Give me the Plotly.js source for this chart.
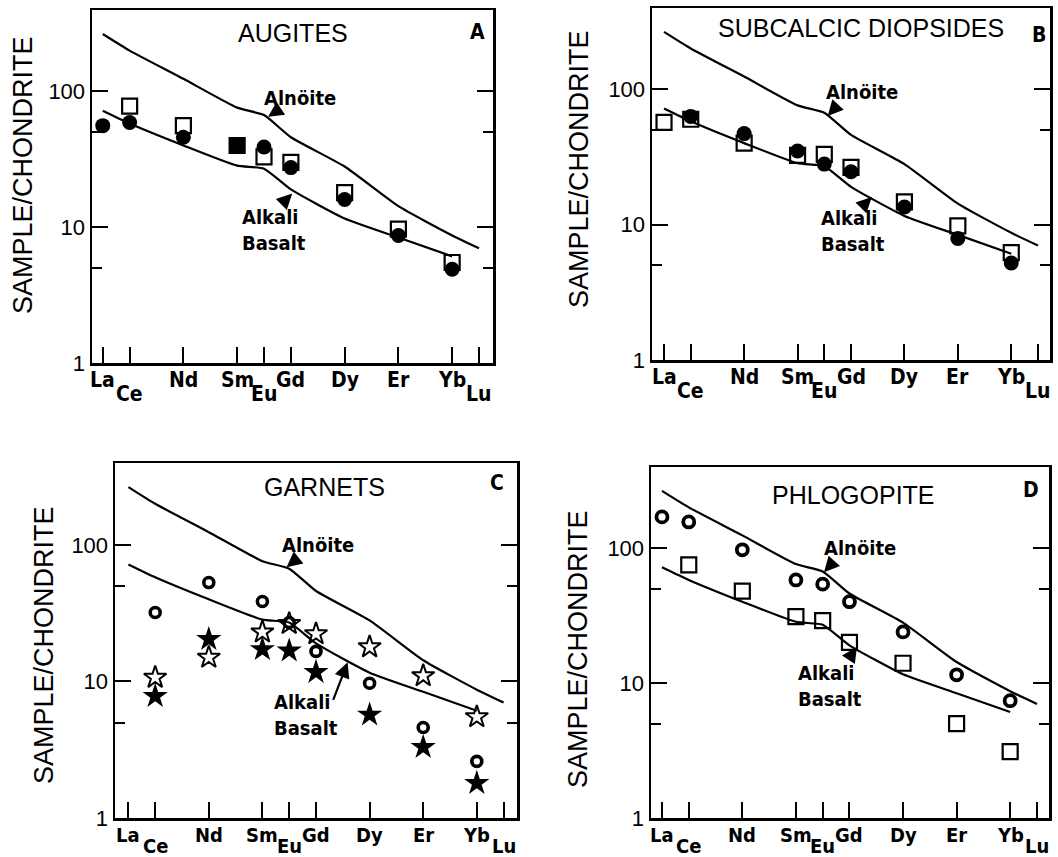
<!DOCTYPE html>
<html>
<head>
<meta charset="utf-8">
<script src="https://cdn.plot.ly/plotly-3.0.1.min.js"></script>
<style>
html,body{margin:0;padding:0;background:#fff;}
#chart{width:1058px;height:857px;}
</style>
</head>
<body>
<div id="chart"></div>
<script>
// ---------- data ----------
const elements = ['La','Ce','Nd','Sm','Eu','Gd','Dy','Er','Yb','Lu'];
const atomicNumbers = [57,58,60,62,63,64,66,68,70,71];
const lowerLabels = ['Ce','Eu','Lu'];

// reference curves (same in all panels)
const alnoite = [265,200,124,76,67,46,28,14.3,8.7,7.0];
const alkaliBasalt = [72,58,40,28.4,27,19,11.6,8.4,6.1,null];

// A: augites
const augiteSqEl = ['Ce','Nd','Sm','Eu','Gd','Dy','Er','Yb'];
const augiteSq = [78,56,40,33,30,18,9.7,5.5];
const augiteCiEl = ['La','Ce','Nd','Eu','Gd','Dy','Er','Yb'];
const augiteCi = [56,59,46,39,27.5,16,8.7,4.9];

// B: subcalcic diopsides
const diopSqEl = ['La','Ce','Nd','Sm','Eu','Gd','Dy','Er','Yb'];
const diopSq = [57,60,40,32.5,33,26.5,14.7,9.8,6.2];
const diopCiEl = ['Ce','Nd','Sm','Eu','Gd','Dy','Er','Yb'];
const diopCi = [63,47,35,28,24.6,13.5,7.9,5.2];

// C: garnets
const garCiEl = ['Ce','Nd','Sm','Eu','Gd','Dy','Er','Yb'];
const garCi = [32,53,38.5,27,16.6,9.7,4.6,2.6];
const garOpenStarEl = ['Ce','Nd','Sm','Eu','Gd','Dy','Er','Yb'];
const garOpenStar = [10.7,15,23,26.5,22.3,17.9,11,5.5];
const garStarEl = ['Ce','Nd','Sm','Eu','Gd','Dy','Er','Yb'];
const garStar = [7.8,20.4,17.2,16.8,11.7,5.7,3.3,1.8];

// D: phlogopite
const phlCiEl = ['La','Ce','Nd','Sm','Eu','Gd','Dy','Er','Yb'];
const phlCi = [170,156,97,58,54,40,23.9,11.5,7.4];
const phlSqEl = ['Ce','Nd','Sm','Eu','Gd','Dy','Er','Yb'];
const phlSq = [75,48,31,29,20,14,5.0,3.1];

const panelTitles = ['AUGITES','SUBCALCIC DIOPSIDES','GARNETS','PHLOGOPITE'];
const panelLetters = ['A','B','C','D'];
const yTickVals = [1,10,100];
const yTickText = ['1','10','100'];
const yMinorVals = [5,50];
const yTitle = 'SAMPLE/CHONDRITE';

// ---------- helpers ----------
const W = 1058, H = 857;
const px = p => p / W;
const py = p => 1 - p / H;
const Z = el => atomicNumbers[elements.indexOf(el)];
const narrow = 'Liberation Sans Narrow, DejaVu Sans Condensed, Arial Narrow, Liberation Sans, sans-serif';
const sans = 'Liberation Sans, Arial, sans-serif';

// panel geometry in pixels
const panels = [
  {x0:92,  x1:493,  y0:10,  y1:363, xr:[56.6,71.52],  low:-31, fs:21},
  {x0:652, x1:1050, y0:8,   y1:360, xr:[56.55,71.45], low:-31, fs:21},
  {x0:115, x1:517,  y0:463, y1:818, xr:[56.5,71.5],   low:-28, fs:20},
  {x0:651, x1:1049, y0:467, y1:818, xr:[56.59,71.45], low:-28, fs:20}
];

const traces = [];
const layout = {
  width: W, height: H,
  margin: {l:0, r:0, t:0, b:0},
  paper_bgcolor: '#fff', plot_bgcolor: '#fff',
  showlegend: false,
  font: {family: sans, color: '#000'},
  annotations: [], shapes: []
};

panels.forEach((p, i) => {
  const n = i === 0 ? '' : String(i + 1);
  layout['xaxis' + n] = {
    domain: [px(p.x0), px(p.x1)],
    range: p.xr,
    anchor: 'y' + n,
    tickmode: 'array', tickvals: atomicNumbers, ticktext: elements,
    showticklabels: false,
    ticks: 'inside', ticklen: 16, tickwidth: 2, tickcolor: '#000',
    showline: true, linewidth: 2.5, linecolor: '#000', mirror: true,
    showgrid: false, zeroline: false, fixedrange: true
  };
  layout['yaxis' + n] = {
    domain: [py(p.y1), py(p.y0)],
    type: 'log', range: [0, 2.6],
    anchor: 'x' + n,
    tickmode: 'array', tickvals: yTickVals, ticktext: yTickText,
    ticks: 'inside', ticklen: 16, tickwidth: 2, tickcolor: '#000',
    minor: {tickmode: 'array', tickvals: yMinorVals, ticks: 'inside', ticklen: 10, tickwidth: 2, tickcolor: '#000', showgrid: false},
    tickfont: {family: sans, size: 22, color: '#000'},
    showline: true, linewidth: 2.5, linecolor: '#000', mirror: 'ticks',
    showgrid: false, zeroline: false, fixedrange: true
  };
  const xa = 'x' + n, ya = 'y' + n;
  // reference curves
  traces.push({x: atomicNumbers, y: alnoite, xaxis: xa, yaxis: ya, mode: 'lines',
    line: {color: '#000', width: 2.2, shape: 'spline', smoothing: 0.5}, hoverinfo: 'skip', name: 'Alnöite'});
  traces.push({x: atomicNumbers.slice(0, 9), y: alkaliBasalt.slice(0, 9), xaxis: xa, yaxis: ya, mode: 'lines',
    line: {color: '#000', width: 2.2, shape: 'spline', smoothing: 0.5}, hoverinfo: 'skip', name: 'Alkali Basalt'});

  // x tick labels (with staggered subscript-like positions)
  elements.forEach(el => {
    const low = lowerLabels.includes(el);
    layout.annotations.push({
      x: Z(el), y: 0, xref: xa, yref: ya + ' domain',
      text: el, showarrow: false, xanchor: 'center', yanchor: 'middle',
      yshift: low ? p.low : -17,
      font: {family: narrow, size: p.fs, color: '#000', weight: 700}
    });
  });
});

// ---------- markers ----------
function add(xa, ya, els, vals, marker, name) {
  traces.push({x: els.map(Z), y: vals, xaxis: xa, yaxis: ya, mode: 'markers', marker: marker, name: name, cliponaxis: false});
}
// A
add('x','y', augiteSqEl, augiteSq,
  {symbol: augiteSqEl.map(e => e === 'Sm' ? 'square' : 'square-open'), size: 15, color: '#000', line: {width: 2.2, color: '#000'}}, 'Augite (squares)');
add('x','y', augiteCiEl, augiteCi, {symbol: 'circle', size: 15, color: '#000'}, 'Augite (circles)');
// B
add('x2','y2', diopSqEl, diopSq, {symbol: 'square-open', size: 15, color: '#000', line: {width: 2.2, color: '#000'}}, 'Diopside (squares)');
add('x2','y2', diopCiEl, diopCi, {symbol: 'circle', size: 15, color: '#000'}, 'Diopside (circles)');
// C
add('x3','y3', garCiEl, garCi, {symbol: 'circle-open', size: 10, color: '#000', line: {width: 3.6, color: '#000'}}, 'Garnet (circles)');
add('x3','y3', garOpenStarEl, garOpenStar, {symbol: 'star-open', size: 17, color: '#000', line: {width: 2, color: '#000'}}, 'Garnet (open stars)');
add('x3','y3', garStarEl, garStar, {symbol: 'star', size: 19, color: '#000'}, 'Garnet (stars)');
// D
add('x4','y4', phlSqEl, phlSq, {symbol: 'square-open', size: 15, color: '#000', line: {width: 2.2, color: '#000'}}, 'Phlogopite (squares)');
add('x4','y4', phlCiEl, phlCi, {symbol: 'circle-open', size: 11, color: '#000', line: {width: 3.8, color: '#000'}}, 'Phlogopite (circles)');

// ---------- text annotations ----------
const A = layout.annotations;
const txt = (x, y, text, font, extra) => A.push(Object.assign({
  x: px(x), y: py(y), xref: 'paper', yref: 'paper', text: text, showarrow: false,
  xanchor: 'center', yanchor: 'middle', font: font}, extra || {}));
const titleFont = {family: sans, size: 25, color: '#000'};
const letterFont = {family: narrow, size: 21, color: '#000', weight: 700};
const labelFont = {family: narrow, size: 20, color: '#000', weight: 700};
const yTitleFont = {family: sans, size: 27, color: '#000'};

// panel titles & letters
[[293,33],[861,28],[324,487],[853,495]].forEach((c, i) => txt(c[0], c[1], panelTitles[i], titleFont));
[[477,32],[1039,35],[497,483],[1031,490]].forEach((c, i) => txt(c[0], c[1], panelLetters[i], letterFont));
// y titles
[[23,175],[579,169],[44,645],[578,649]].forEach(c => txt(c[0], c[1], yTitle, yTitleFont, {textangle: -90}));
// curve labels
[[300,98],[862,92],[318,545],[860,548]].forEach(c => txt(c[0], c[1], 'Alnöite', labelFont));
[[240,230],[819,231],[272,715],[796,686]].forEach(c => txt(c[0], c[1], 'Alkali<br>Basalt', labelFont, {xanchor: 'left', align: 'left'}));

// arrows (head on the curve, tail offset in px)
const arrows = [
  ['x','y', 63.15, 65, 12, -8],
  ['x','y', 64.05, 17.7, -9, 9],
  ['x2','y2', 63.13, 63.5, 9, -10],
  ['x2','y2', 64.78, 16, -9, 9],
  ['x3','y3', 62.9, 68.7, 10, -8],
  ['x3','y3', 65.18, 13.8, -15, 39],
  ['x4','y4', 63.05, 66, 9, -10],
  ['x4','y4', 64.28, 18.5, -8, 12]
];
arrows.forEach(a => A.push({
  x: a[2], y: Math.log10(a[3]), xref: a[0], yref: a[1], text: '', showarrow: true,
  ax: a[4], ay: a[5], arrowhead: 2, arrowsize: 1.4, arrowwidth: 2.2, arrowcolor: '#000'
}));

Plotly.newPlot('chart', traces, layout, {staticPlot: true});
</script>
</body>
</html>
